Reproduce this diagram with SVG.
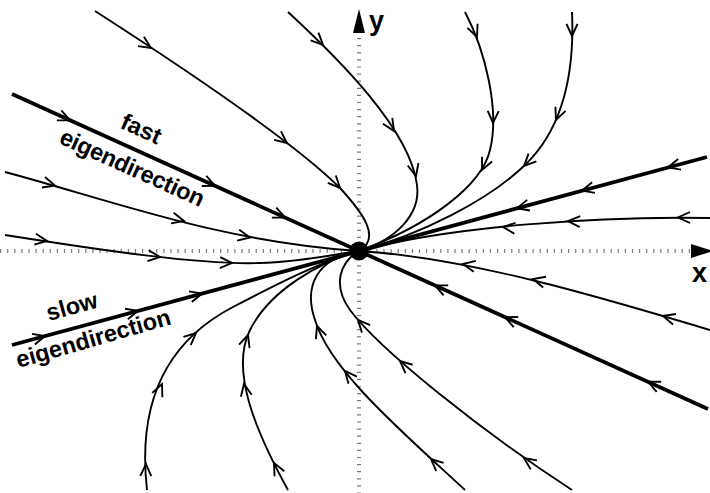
<svg xmlns="http://www.w3.org/2000/svg" xmlns:xlink="http://www.w3.org/1999/xlink" width="710" height="493" viewBox="0 0 710 493">
<style>
.ax{stroke:#7a7a7a;stroke-width:4;stroke-dasharray:1.2 5.9;fill:none}
.tr{fill:none;stroke:#000;stroke-width:1.9}
.eig{fill:none;stroke:#000;stroke-width:3.8}
.lbl{font-family:"Liberation Sans",Arial,Helvetica,sans-serif;font-weight:bold;font-size:23.5px;fill:#000}
.axl{font-family:"Liberation Sans",Arial,Helvetica,sans-serif;font-weight:bold;font-size:27px;fill:#000}
</style>
<defs>
<path id="ah" d="M-12,-5.5 L0,0 L-12,5.5" fill="none" stroke="#000" stroke-width="1.9"/>
</defs>
<rect width="710" height="493" fill="#fff"/>
<g id="axes">
<line class="ax" x1="0" y1="251" x2="690" y2="251"/>
<line class="ax" x1="359" y1="38" x2="359" y2="493"/>
<polygon points="691,244 691,258 713,251" fill="#000"/>
<polygon points="359,9 353,33 365,33" fill="#000"/>
<text class="axl" x="369" y="30">y</text>
<text class="axl" x="692" y="282">x</text>
</g>
<g id="trajectories">
<path class="tr" d="M95,11 C210,85 300,148 340,188 C362,212 382,238 359,251"/>
<path class="tr" d="M288,12 C340,60 410,130 417,185 C421,215 395,240 359,251"/>
<path class="tr" d="M465,12 C485,50 500,110 490,150 C482,185 430,225 359,251"/>
<path class="tr" d="M572,12 C575,80 560,130 527,163 C490,200 420,235 359,251"/>
<path class="tr" d="M710,218 C600,216 450,226 359,251"/>
<path class="tr" d="M710,330 C600,297 470,258 359,251"/>
<path class="tr" d="M572,490 C480,430 380,350 350,310 C332,285 340,262 359,251"/>
<path class="tr" d="M465,490 C400,430 330,370 315,320 C303,285 318,258 359,251"/>
<path class="tr" d="M288,490 C255,430 230,370 250,330 C270,290 320,262 359,251"/>
<path class="tr" d="M147,490 C138,410 160,345 233,307 C275,285 320,262 359,251"/>
<path class="tr" d="M5,172 C110,200 220,242 359,251"/>
<path class="tr" d="M5,235 C100,250 200,265 260,263 C300,262 330,255 359,251"/>
</g>
<g id="eigenlines">
<line class="eig" x1="12" y1="94" x2="708" y2="409"/>
<line class="eig" x1="12" y1="345" x2="707" y2="157"/>
</g>
<g id="arrowheads">
<use xlink:href="#ah" transform="translate(151,48) rotate(33)"/>
<use xlink:href="#ah" transform="translate(287,143) rotate(38)"/>
<use xlink:href="#ah" transform="translate(340,188) rotate(47)"/>
<use xlink:href="#ah" transform="translate(323,45) rotate(45)"/>
<use xlink:href="#ah" transform="translate(394,131) rotate(58)"/>
<use xlink:href="#ah" transform="translate(416,176) rotate(76)"/>
<use xlink:href="#ah" transform="translate(477,37) rotate(68)"/>
<use xlink:href="#ah" transform="translate(493,123) rotate(91)"/>
<use xlink:href="#ah" transform="translate(482,170) rotate(115)"/>
<use xlink:href="#ah" transform="translate(572,36) rotate(90)"/>
<use xlink:href="#ah" transform="translate(556,120) rotate(112)"/>
<use xlink:href="#ah" transform="translate(524,166) rotate(135)"/>
<use xlink:href="#ah" transform="translate(678,217.5) rotate(180)"/>
<use xlink:href="#ah" transform="translate(568,221) rotate(183)"/>
<use xlink:href="#ah" transform="translate(503,227) rotate(186)"/>
<use xlink:href="#ah" transform="translate(663,316) rotate(196)"/>
<use xlink:href="#ah" transform="translate(533,279) rotate(195)"/>
<use xlink:href="#ah" transform="translate(463,264) rotate(191)"/>
<use xlink:href="#ah" transform="translate(524,458) rotate(215)"/>
<use xlink:href="#ah" transform="translate(400,361) rotate(221)"/>
<use xlink:href="#ah" transform="translate(358,320) rotate(228)"/>
<use xlink:href="#ah" transform="translate(431,459) rotate(222)"/>
<use xlink:href="#ah" transform="translate(345,371) rotate(230)"/>
<use xlink:href="#ah" transform="translate(317,326) rotate(250)"/>
<use xlink:href="#ah" transform="translate(274,463) rotate(243)"/>
<use xlink:href="#ah" transform="translate(244,384) rotate(259)"/>
<use xlink:href="#ah" transform="translate(248,335) rotate(288)"/>
<use xlink:href="#ah" transform="translate(146,464) rotate(271)"/>
<use xlink:href="#ah" transform="translate(162,384) rotate(293)"/>
<use xlink:href="#ah" transform="translate(196,333) rotate(318)"/>
<use xlink:href="#ah" transform="translate(55,185.5) rotate(16)"/>
<use xlink:href="#ah" transform="translate(184,221) rotate(14)"/>
<use xlink:href="#ah" transform="translate(250,237.5) rotate(11)"/>
<use xlink:href="#ah" transform="translate(47,241) rotate(9)"/>
<use xlink:href="#ah" transform="translate(160,257) rotate(6)"/>
<use xlink:href="#ah" transform="translate(232,263) rotate(2)"/>
<use xlink:href="#ah" transform="translate(70,120.3) rotate(24.35)"/>
<use xlink:href="#ah" transform="translate(215,185.9) rotate(24.35)"/>
<use xlink:href="#ah" transform="translate(285,217.6) rotate(24.35)"/>
<use xlink:href="#ah" transform="translate(435,285.4) rotate(204.35)"/>
<use xlink:href="#ah" transform="translate(505,317.1) rotate(204.35)"/>
<use xlink:href="#ah" transform="translate(648,381.8) rotate(204.35)"/>
<use xlink:href="#ah" transform="translate(45,336.1) rotate(-15.13)"/>
<use xlink:href="#ah" transform="translate(138,310.9) rotate(-15.13)"/>
<use xlink:href="#ah" transform="translate(202,293.6) rotate(-15.13)"/>
<use xlink:href="#ah" transform="translate(668,167.4) rotate(164.87)"/>
<use xlink:href="#ah" transform="translate(582,190.7) rotate(164.87)"/>
<use xlink:href="#ah" transform="translate(517,208.3) rotate(164.87)"/>
</g>
<circle id="fixed-point" cx="359" cy="251" r="9.5" fill="#000"/>
<g id="labels">
<text class="lbl" text-anchor="middle" transform="translate(138,136) rotate(24.35)">fast</text>
<text class="lbl" text-anchor="middle" textLength="156" lengthAdjust="spacing" transform="translate(129,175) rotate(24.35)">eigendirection</text>
<text class="lbl" text-anchor="middle" transform="translate(74,314) rotate(-15.5)">slow</text>
<text class="lbl" text-anchor="middle" textLength="160" lengthAdjust="spacing" transform="translate(95.5,346) rotate(-16)">eigendirection</text>
</g>
</svg>
